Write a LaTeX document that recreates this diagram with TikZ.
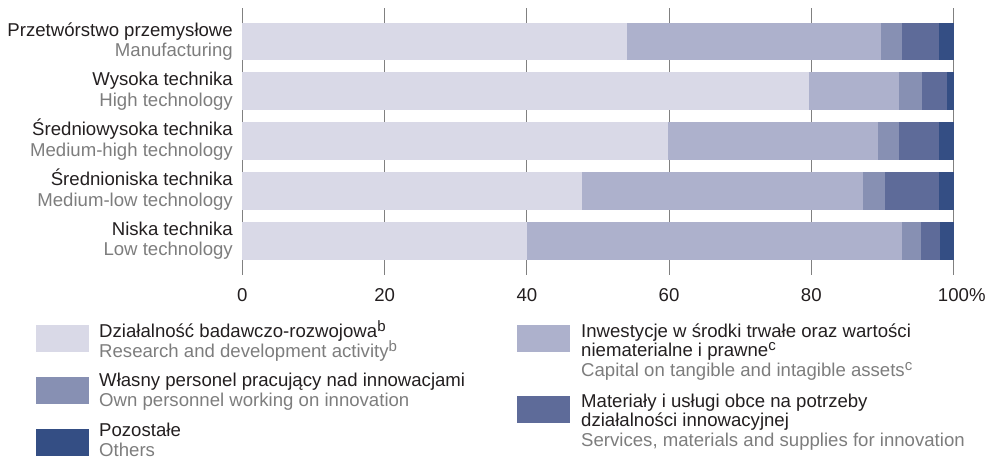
\documentclass[tikz,border=0pt]{standalone}
\usepackage{fontspec}
\setmainfont{Liberation Sans}
\usepackage{xcolor}
\usepackage{tikz}
\usetikzlibrary{positioning}
\definecolor{rdcolor}{RGB}{217,217,231}
\definecolor{capcolor}{RGB}{173,177,204}
\definecolor{perscolor}{RGB}{135,144,179}
\definecolor{servcolor}{RGB}{94,107,153}
\definecolor{othcolor}{RGB}{52,78,132}
\definecolor{plcolor}{RGB}{35,31,32}
\definecolor{encolor}{RGB}{125,125,125}
\newcommand{\notemark}[1]{\smash{\raisebox{6pt}{\fontsize{15}{15}\selectfont #1}}}

\begin{document}
\begin{tikzpicture}[x=1pt,y=-1pt,
  font=\fontsize{18.6}{20}\selectfont,
  pltext/.style={text=plcolor,inner sep=0pt},
  entext/.style={text=encolor,inner sep=0pt},
  rowlabel/.style={anchor=base east},
  legtext/.style={anchor=base west},
  gridline/.style={draw=black!50,line width=0.9pt},
  keybox/.style={minimum width=53pt,minimum height=27pt,inner sep=0pt,anchor=north west}]
  \useasboundingbox (0,0) rectangle (991,458);

  % Chart area: 1% = 7.111px
  \begin{scope}[shift={(242.4,0)},x=7.111pt]
    % Grid
    \foreach \t in {0,20,...,100}
      \draw[gridline] (\t,8) -- (\t,275);

    % Bars
    \foreach \a/\b/\c/\d [count=\i from 0] in {54.1/89.8/92.8/98.0, 79.7/92.4/95.6/99.1, 59.9/89.4/92.3/98.0, 47.8/87.3/90.4/98.0, 40.0/92.8/95.4/98.1}{
      \pgfmathsetmacro\yt{22.5+49.9*\i}
      \pgfmathsetmacro\yb{\yt+37.7}
      \fill[rdcolor] (0,\yt) rectangle (\a,\yb);
      \fill[capcolor] (\a,\yt) rectangle (\b,\yb);
      \fill[perscolor] (\b,\yt) rectangle (\c,\yb);
      \fill[servcolor] (\c,\yt) rectangle (\d,\yb);
      \fill[othcolor] (\d,\yt) rectangle (100,\yb);
    }

    % Tick labels
    \foreach \t in {0,20,...,80}
      \node[pltext,anchor=base] (tick\t) at (\t,301.5) {\t};
    \node[pltext,anchor=base] (tick100) at (100,301.5) {100\rlap{\%}};
  \end{scope}

  % Row labels
  \node[pltext,rowlabel] (manpl) at (233,36) {Przetwórstwo przemysłowe};
  \node[entext,rowlabel] (manen) at (233,56.3) {Manufacturing};
  \node[pltext,rowlabel] (highpl) at (233,85.9) {Wysoka technika};
  \node[entext,rowlabel] (highen) at (233,106.2) {High technology};
  \node[pltext,rowlabel] (mhighpl) at (233,135.8) {Średniowysoka technika};
  \node[entext,rowlabel] (mhighen) at (233,156.1) {Medium-high technology};
  \node[pltext,rowlabel] (mlowpl) at (233,185.7) {Średnioniska technika};
  \node[entext,rowlabel] (mlowen) at (233,206) {Medium-low technology};
  \node[pltext,rowlabel] (lowpl) at (233,235.6) {Niska technika};
  \node[entext,rowlabel] (lowen) at (233,255.9) {Low technology};

  % Legend
  \node[keybox,fill=rdcolor] (keyrd) at (36,325) {};
  \node[keybox,fill=perscolor] (keypers) at (36,377) {};
  \node[keybox,fill=othcolor] (keyoth) at (36,428.5) {};
  \node[keybox,fill=capcolor] (keycap) at (517,325) {};
  \node[keybox,fill=servcolor] (keyserv) at (517,395.3) {};

  \node[pltext,legtext] (rdpl) at (99,337.5) {Działalność badawczo-rozwojowa\notemark{b}};
  \node[entext,legtext] (rden) at (99,357.3) {Research and development activity\notemark{b}};
  \node[pltext,legtext] (perspl) at (99,386.5) {Własny personel pracujący nad innowacjami};
  \node[entext,legtext] (persen) at (99,406.5) {Own personnel working on innovation};
  \node[pltext,legtext] (othpl) at (99,436) {Pozostałe};
  \node[entext,legtext] (othen) at (99,456) {Others};
  \node[pltext,legtext] (cappl) at (581,337) {Inwestycje w środki trwałe oraz wartości};
  \node[pltext,legtext] (cappl2) at (581,356.5) {niematerialne i prawne\notemark{c}};
  \node[entext,legtext] (capen) at (581,376) {Capital on tangible and intagible assets\notemark{c}};
  \node[pltext,legtext] (servpl) at (581,407) {Materiały i usługi obce na potrzeby};
  \node[pltext,legtext] (servpl2) at (581,426.5) {działalności innowacyjnej};
  \node[entext,legtext] (serven) at (581,446) {Services, materials and supplies for innovation};

\end{tikzpicture}
\end{document}
